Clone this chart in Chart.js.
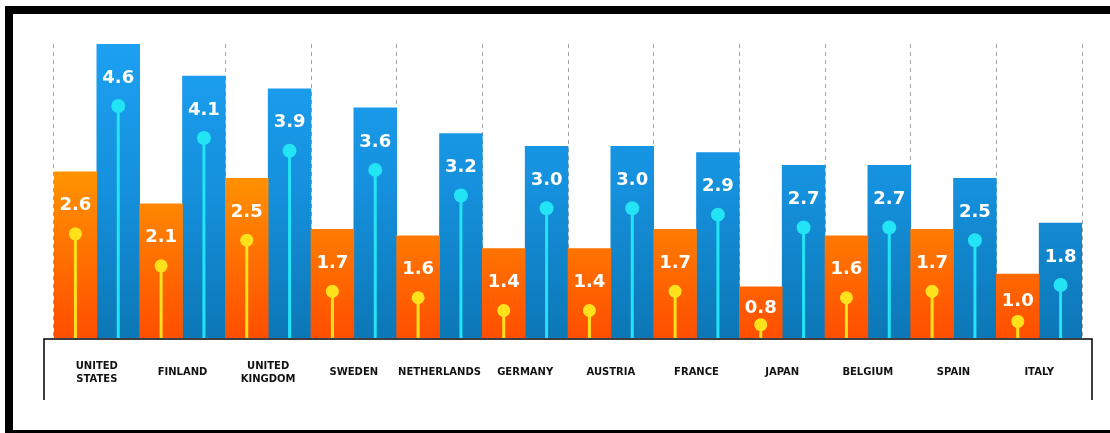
<!DOCTYPE html>
<html>
<head>
<meta charset="utf-8">
<script src="https://cdn.jsdelivr.net/npm/chart.js@4.4.1/dist/chart.umd.min.js"></script>
<style>
  html, body { margin: 0; padding: 0; background: #fff; }
  #wrap { position: relative; width: 1110px; height: 433px; overflow: hidden; }
  #frame { position: absolute; left: 5px; top: 6px; width: 1130px; height: 432px; border: 8px solid #000; box-sizing: border-box; pointer-events: none; }
  canvas { position: absolute; left: 0; top: 0; }
</style>
</head>
<body>
<div id="wrap">
  <canvas id="chart" width="1110" height="433"></canvas>
  <div id="frame"></div>
</div>
<script>
const countries = [['UNITED', 'STATES'], 'FINLAND', ['UNITED', 'KINGDOM'], 'SWEDEN', 'NETHERLANDS', 'GERMANY', 'AUSTRIA', 'FRANCE', 'JAPAN', 'BELGIUM', 'SPAIN', 'ITALY'];
const orangeValues = [2.6, 2.1, 2.5, 1.7, 1.6, 1.4, 1.4, 1.7, 0.8, 1.6, 1.7, 1.0];
const blueValues = [4.6, 4.1, 3.9, 3.6, 3.2, 3.0, 3.0, 2.9, 2.7, 2.7, 2.5, 1.8];

// vertical gradient over the whole plot area
function areaGradient(stops, fallback) {
    return (c) => {
        const { ctx, chartArea } = c.chart;
        if (!chartArea) return fallback;
        const g = ctx.createLinearGradient(0, chartArea.top, 0, chartArea.bottom);
        stops.forEach(([at, col]) => g.addColorStop(at, col));
        return g;
    };
}

// stick + dot + value label inside each bar
const lollipops = {
    id: 'lollipops',
    afterDatasetsDraw(chart) {
        const ctx = chart.ctx;
        chart.data.datasets.forEach((ds, i) => {
            chart.getDatasetMeta(i).data.forEach((bar, j) => {
                const h = bar.base - bar.y;
                const dotY = bar.y + Math.min(62, h * 0.74);
                const textY = bar.y + Math.min(34, h * 0.42);
                ctx.save();
                ctx.strokeStyle = ds.stickColor;
                ctx.fillStyle = ds.stickColor;
                ctx.lineWidth = 3;
                ctx.beginPath();
                ctx.moveTo(bar.x, bar.base);
                ctx.lineTo(bar.x, dotY);
                ctx.stroke();
                ctx.beginPath();
                ctx.arc(bar.x, dotY, ds.dotRadius, 0, Math.PI * 2);
                ctx.fill();
                ctx.fillStyle = '#fff';
                ctx.font = 'bold 18px "DejaVu Sans"';
                ctx.textAlign = 'center';
                ctx.textBaseline = 'middle';
                ctx.fillText(ds.data[j].toFixed(1), bar.x, textY);
                ctx.restore();
            });
        });
    }
};

// open box under the bars holding the country names
const labelBox = {
    id: 'labelBox',
    afterDraw(chart) {
        const { ctx, chartArea } = chart;
        const l = chartArea.left - 10, r = chartArea.right + 10, y = chartArea.bottom + 1;
        ctx.save();
        ctx.strokeStyle = '#000';
        ctx.lineWidth = 1.5;
        ctx.beginPath();
        ctx.moveTo(l, y + 61);
        ctx.lineTo(l, y);
        ctx.lineTo(r, y);
        ctx.lineTo(r, y + 61);
        ctx.stroke();
        ctx.restore();
    }
};

new Chart(document.getElementById('chart'), {
    type: 'bar',
    data: {
        labels: countries,
        datasets: [{
            data: orangeValues,
            backgroundColor: areaGradient([[0, '#ffa400'], [0.45, '#ff9200'], [1, '#ff4e00']], '#ff8a00'),
            stickColor: '#ffe21c',
            dotRadius: 6.5
        }, {
            data: blueValues,
            backgroundColor: areaGradient([[0, '#1ca0f2'], [0.5, '#1590dc'], [1, '#0c77b6']], '#1590dc'),
            stickColor: '#22e4f4',
            dotRadius: 7
        }]
    },
    options: {
        responsive: false,
        animation: false,
        layout: { padding: { top: 44, left: 54, right: 28, bottom: 0 } },
        datasets: { bar: { categoryPercentage: 1, barPercentage: 1, borderWidth: 0 } },
        scales: {
            x: {
                grid: { display: true, offset: true, color: '#a0a0a0', lineWidth: 1, drawTicks: false },
                border: { display: false, dash: [4, 4] },
                ticks: {
                    font: { family: 'DejaVu Sans', weight: 'bold', size: 10, lineHeight: 1.3 },
                    color: '#111',
                    padding: 28,
                    crossAlign: 'center',
                    maxRotation: 0,
                    autoSkip: false
                },
                afterFit(scale) { scale.height = 95; }
            },
            y: { display: false, min: 0, max: 4.6 }
        },
        plugins: {
            legend: { display: false },
            tooltip: { enabled: false }
        }
    },
    plugins: [lollipops, labelBox]
});
</script>
</body>
</html>
